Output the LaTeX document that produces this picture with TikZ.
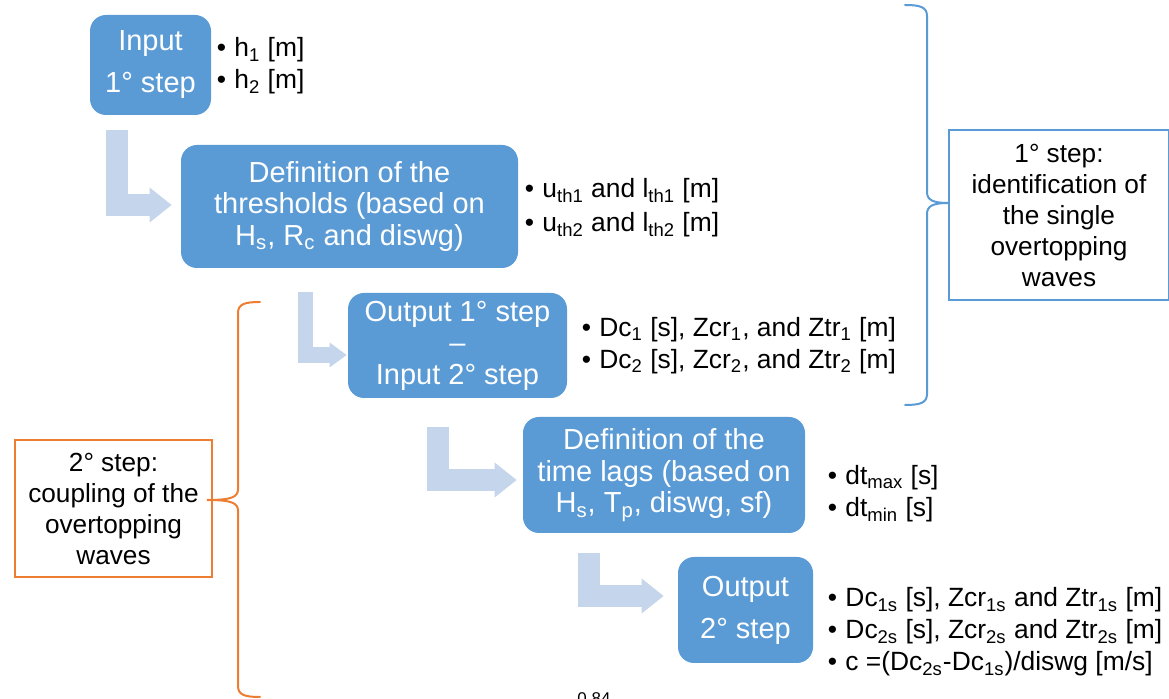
\documentclass[tikz,border=0pt]{standalone}
\usepackage{amssymb,amsmath}
\usepackage{color}
\usepackage{fontspec}
\setmainfont{Liberation Sans}
\usetikzlibrary{positioning,calc,arrows.meta}
\definecolor{stepblue}{RGB}{91,155,213}
\definecolor{arrowblue}{RGB}{197,213,235}
\definecolor{braceorange}{RGB}{237,125,49}
\newcommand{\bul}{\textbullet\hspace{4.2pt}}

\begin{document}
\begin{tikzpicture}[x=0.5pt,y=-0.5pt,
    stepbox/.style={fill=stepblue,rounded corners=8pt,text=white,align=center,inner sep=0pt,
      font=\fontsize{14.5}{15.75}\selectfont},
    blist/.style={anchor=west,align=left,inner sep=0pt,font=\fontsize{13.2}{16}\selectfont},
    larrow/.style={draw=arrowblue,line width=11pt,
      -{Triangle[width=17.5pt,length=11pt,line width=0pt]}},
    sidebox/.style={line width=0.75pt,align=center,inner sep=0pt,
      font=\fontsize{13.1}{15.5}\selectfont},
    bracket/.style={line width=1pt,line cap=round}]
  \useasboundingbox (0,0) rectangle (1169,699);

  % steps
  \node[stepbox,minimum width=60.5pt,minimum height=50pt] (input) at (150.5,65)
    {Input\\[5.25pt]1° step};
  \node[stepbox,minimum width=168.5pt,minimum height=61.5pt] (defthr) at (349.5,206.5)
    {Definition of the\\thresholds (based on\\H\textsubscript{s}, R\textsubscript{c} and diswg)};
  \node[stepbox,minimum width=109.5pt,minimum height=52.5pt] (out1) at (457.5,345.5)
    {Output 1° step\\–\\Input 2° step};
  \node[stepbox,minimum width=141pt,minimum height=58pt] (deflag) at (664,475)
    {Definition of the\\time lags (based on\\H\textsubscript{s}, T\textsubscript{p}, diswg, sf)};
  \node[stepbox,minimum width=67.5pt,minimum height=53pt] (out2) at (745.5,610)
    {Output\\[5.25pt]2° step};

  % bullet lists
  \node[blist,right=2.5pt of input,yshift=-0.5pt] (inlist)
    {\bul h\textsubscript{1} [m]\\\bul h\textsubscript{2} [m]};
  \node[blist,right=3pt of defthr,yshift=-0.5pt,font=\fontsize{13.2}{17}\selectfont] (thrlist)
    {\bul u\textsubscript{th1} and l\textsubscript{th1} [m]\\\bul u\textsubscript{th2} and l\textsubscript{th2} [m]};
  \node[blist,right=7pt of out1] (out1list)
    {\bul Dc\textsubscript{1} [s], Zcr\textsubscript{1}, and Ztr\textsubscript{1} [m]\\
     \bul Dc\textsubscript{2} [s], Zcr\textsubscript{2}, and Ztr\textsubscript{2} [m]};
  \node[blist,right=11pt of deflag,yshift=-9.5pt] (laglist)
    {\bul dt\textsubscript{max} [s]\\\bul dt\textsubscript{min} [s]};
  \node[blist,right=7pt of out2,yshift=-11pt] (out2list)
    {\bul Dc\textsubscript{1s} [s], Zcr\textsubscript{1s} and Ztr\textsubscript{1s} [m]\\
     \bul Dc\textsubscript{2s} [s], Zcr\textsubscript{2s} and Ztr\textsubscript{2s} [m]\\
     \bul c =(Dc\textsubscript{2s}-Dc\textsubscript{1s})/diswg [m/s]};

  % arrows between steps
  \coordinate (a1) at (117,130);
  \coordinate (a2) at (305.5,292);
  \coordinate (a3) at (437.5,427);
  \coordinate (a4) at (588.5,553);
  \draw[larrow] (a1) |- ($(defthr.west)+(-9,-1.5)$);
  \draw[larrow,line width=7.75pt,-{Triangle[width=12.5pt,length=8.5pt,line width=0pt]}]
    (a2) |- ($(out1.west)+(-1,9.5)$);
  \draw[larrow] (a3) |- ($(deflag.west)+(-6,5)$);
  \draw[larrow] (a4) |- ($(out2.west)+(-14,-14)$);

  % phases
  \node[sidebox,draw=stepblue,minimum width=110pt,minimum height=85pt] (phase1) at (1059,215)
    {1° step:\\identification of\\the single\\overtopping\\waves};
  \node[sidebox,draw=braceorange,minimum width=98.5pt,minimum height=68.5pt] (phase2) at (113.5,508.5)
    {2° step:\\coupling of the\\overtopping\\waves};
  \coordinate (b1t) at (905,5);
  \coordinate (b1b) at (905,405);
  \coordinate (b1tip) at (phase1.west |- 0,203);
  \coordinate (b2t) at (260,302);
  \coordinate (b2b) at (260,697);
  \coordinate (b2tip) at (207,500);
  \draw[bracket,stepblue] (b1t) .. controls (920,5) and (927,7) .. (927,16)
    -- (927,192) .. controls (927,200) and (933,203) .. (b1tip)
    .. controls (933,203) and (927,206) .. (927,214)
    -- (927,394) .. controls (927,403) and (920,405) .. (b1b);
  \draw[bracket,braceorange] (b2t) .. controls (245,302) and (238,304) .. (238,313)
    -- (238,489) .. controls (238,497) and (232,500) .. (b2tip)
    .. controls (232,500) and (238,503) .. (238,511)
    -- (238,686) .. controls (238,695) and (245,697) .. (b2b);

  \node[anchor=base west,inner sep=0pt,font=\fontsize{8.5}{10}\selectfont] (pgno) at (577,705) {0.84};
\end{tikzpicture}
\end{document}
